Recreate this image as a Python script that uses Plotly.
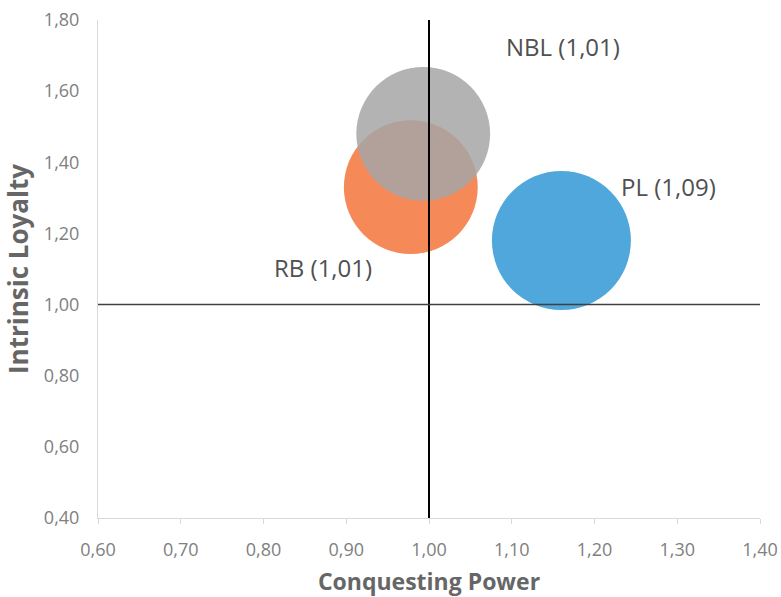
import plotly.graph_objects as go

names = ["RB", "NBL", "PL"]
conquesting = [0.978, 0.993, 1.16]
loyalty = [1.33, 1.48, 1.18]
bubble_size = [1.01, 1.01, 1.09]
labels = ["RB (1,01)", "NBL (1,01)", "PL (1,09)"]
colors = ["rgba(245,137,88,1)", "rgba(166,166,166,0.85)", "rgba(80,167,220,1)"]
label_shift = [(-88, -80), (140, 87), (107, 54)]

x_ticks = [0.6, 0.7, 0.8, 0.9, 1.0, 1.1, 1.2, 1.3, 1.4]
y_ticks = [0.4, 0.6, 0.8, 1.0, 1.2, 1.4, 1.6, 1.8]

fig = go.Figure()
for i in range(len(names)):
    fig.add_trace(go.Scatter(
        x=[conquesting[i]], y=[loyalty[i]], mode="markers", name=names[i],
        marker=dict(size=[bubble_size[i]], sizemode="area", sizeref=0.0001128,
                    color=colors[i], opacity=1, line=dict(width=0)),
        showlegend=False, hoverinfo="skip"))
    fig.add_annotation(x=conquesting[i], y=loyalty[i], text=labels[i], showarrow=False,
                       xshift=label_shift[i][0], yshift=label_shift[i][1],
                       font=dict(family="Open Sans", size=24, color="#505050"))

fig.add_shape(type="line", xref="x", yref="paper", x0=1.0, x1=1.0, y0=0, y1=1,
              line=dict(color="#000000", width=2), layer="above")
fig.add_shape(type="line", xref="paper", yref="y", x0=0, x1=1, y0=1.0, y1=1.0,
              line=dict(color="#404040", width=1.5), layer="above")

fig.update_layout(
    width=781, height=597,
    margin=dict(l=98, r=21, t=20, b=79, autoexpand=False),
    paper_bgcolor="white", plot_bgcolor="white",
    separators=",.",
    font=dict(family="Open Sans", color="#7f7f7f"),
    xaxis=dict(range=[0.6, 1.4], tickvals=x_ticks, tickformat=".2f", automargin=False,
               showgrid=False, zeroline=False, showline=True, linecolor="#d9d9d9", linewidth=1,
               ticks="outside", ticklen=5, tickcolor="#d9d9d9", ticklabelstandoff=10,
               ticklabeloverflow="allow",
               tickfont=dict(size=18, color="#808080"),
               title=dict(text="<b>Conquesting Power</b>", font=dict(size=23, color="#666666"), standoff=22)),
    yaxis=dict(range=[0.4, 1.8], tickvals=y_ticks, tickformat=".2f", automargin=False,
               showgrid=False, zeroline=False, showline=True, linecolor="#d9d9d9", linewidth=1,
               ticks="", ticklabelstandoff=14, ticklabeloverflow="allow",
               tickfont=dict(size=18, color="#808080"),
               title=dict(text="<b>Intrinsic Loyalty</b>", font=dict(size=26, color="#666666"), standoff=10)),
)

fig.write_html("out.html", config={"displayModeBar": False},
               post_script="document.body.style.margin='0';")
